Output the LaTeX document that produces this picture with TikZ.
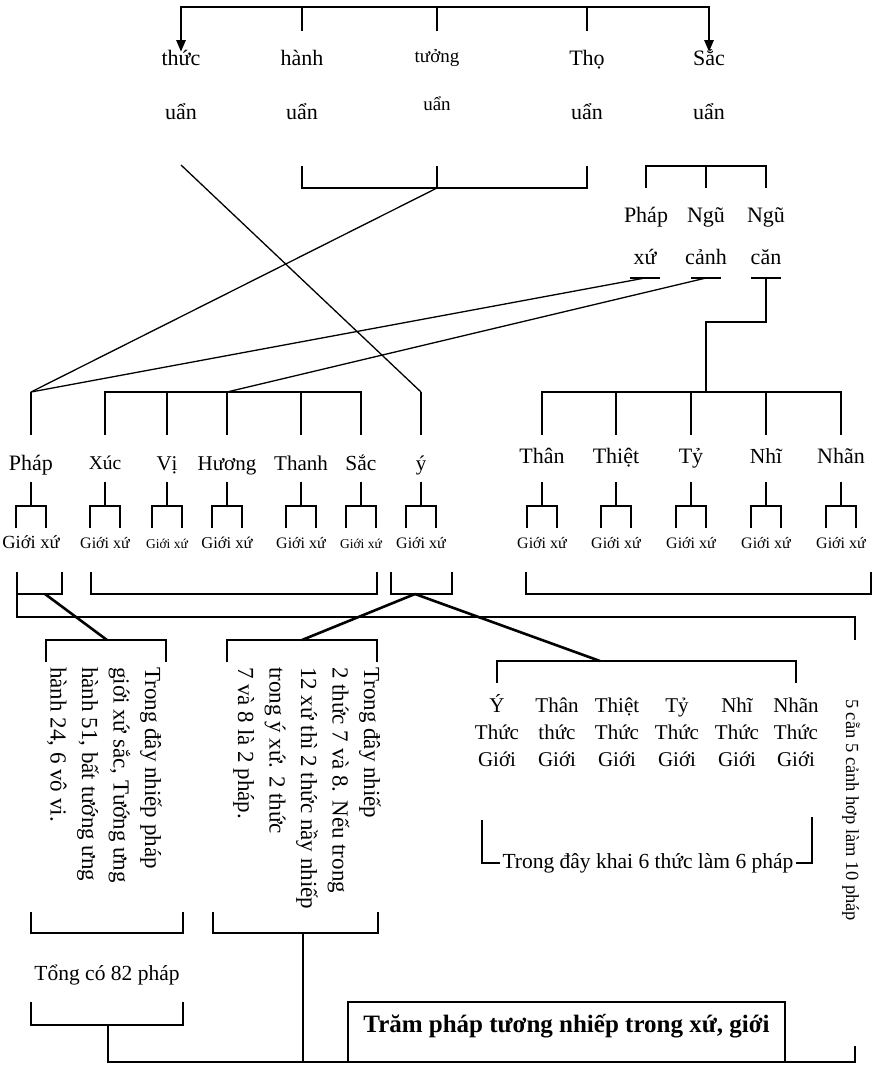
\documentclass[tikz,border=0pt]{standalone}
\usepackage{fontspec}
\setmainfont{Liberation Serif}
\usetikzlibrary{positioning, arrows.meta, calc}

\begin{document}
\begin{tikzpicture}[
  x=1pt, y=-1pt,
  ln/.style={line width=1.3pt},
  bar/.style={line width=2.8pt, line cap=rect},
  slash/.style={line width=2.6pt},
  lbl/.style={inner sep=0pt, anchor=base, font=\fontsize{#1}{#1}\selectfont},
  lbl/.default=22,
  note/.style={
    inner sep=0pt, rotate=-90, align=left, anchor=north west,
    font=\fontsize{23}{31.5}\selectfont,
  },
  bothtips/.style={{Triangle[length=12pt,width=9pt]}-{Triangle[length=12pt,width=9pt]}},
]
\useasboundingbox (0,0) rectangle (877,1069);

% rows used by the brackets
\coordinate (topbar) at (0,7);
\coordinate (tickend) at (0,31);
\coordinate (hT) at (0,166);
\coordinate (hB) at (0,188);
\coordinate (stub) at (0,278);
\coordinate (elbow) at (0,322);
\coordinate (barL) at (0,392);
\coordinate (colTop) at (0,435);
\coordinate (fkA) at (0,482);
\coordinate (fkB) at (0,506);
\coordinate (fkC) at (0,528);

% five aggregates
\node[lbl] (thuc) at (181,65) {thức};
\node[lbl] (hanh) at (302,65) {hành};
\node[lbl=19] (tuong) at (437,62) {tưởng};
\node[lbl] (tho) at (587,65) {Thọ};
\node[lbl] (sac) at (709,65) {Sắc};
\node[lbl] (thucU) at (181,119) {uẩn};
\node[lbl] (hanhU) at (302,119) {uẩn};
\node[lbl=19] (tuongU) at (437,110) {uẩn};
\node[lbl] (thoU) at (587,119) {uẩn};
\node[lbl] (sacU) at (709,119) {uẩn};

\draw[bar, line cap=butt, bothtips] ($(thuc.base)+(0,-13)$) -- (thuc.base |- topbar)
  -- (sac.base |- topbar) -- ($(sac.base)+(0,-13)$);
\foreach \n in {hanh,tuong,tho}
  \draw[ln] (\n.base |- topbar) -- (\n.base |- tickend);

\foreach \n in {hanh,tuong,tho}
  \draw[ln] (\n.base |- hT) -- (\n.base |- hB);
\draw[bar] (hanh.base |- hB) -- (tho.base |- hB);

% form: dharma-base, objects, organs
\node[lbl] (phapX) at (646,222) {Pháp};
\node[lbl] (nguC) at (706,222) {Ngũ};
\node[lbl] (nguK) at (766,222) {Ngũ};
\node[lbl] (xu) at (645,264) {xứ};
\node[lbl] (canh) at (706,264) {cảnh};
\node[lbl] (can) at (766,264) {căn};
\draw[ln] (phapX.base |- hB) -- (phapX.base |- hT) -- (nguK.base |- hT) -- (nguK.base |- hB);
\draw[ln] (nguC.base |- hT) -- (nguC.base |- hB);
\foreach \n in {xu,canh,can}
  \draw[ln] ($(\n.base |- stub)+(-15,0)$) -- ++(30,0);
\draw[ln] (can.base |- stub) |- (canh.base |- elbow) -- (canh.base |- barL);

% twelve bases
\foreach \n/\x/\by/\txt/\fs/\gs in {
    phapL/31/470/Pháp/22/18.5, xuc/105/469/Xúc/19.5/16, vi/167/470/Vị/21/13.5,
    huong/227/470/Hương/21/16.5, thanh/301/470/Thanh/21/16, sacL/361/470/Sắc/21.5/13.5,
    yL/421/470/ý/21/16, than/542/463/Thân/22/16, thiet/616/463/Thiệt/22/16,
    ty/691/463/Tỷ/22/16, nhi/766/463/Nhĩ/21.5/16, nhan/841/463/Nhãn/22/16} {
  \node[lbl=\fs] (\n) at (\x,\by) {\txt};
  \node[lbl=\gs] (\n-gx) at (\x,548) {Giới xứ};
  \draw[ln] (\n.base |- barL) -- (\n.base |- colTop);
  \draw[ln] (\n.base |- fkA) -- (\n.base |- fkB);
  \draw[ln] ($(\n.base |- fkC)+(-15,0)$) -- ($(\n.base |- fkB)+(-15,0)$)
    -- ($(\n.base |- fkB)+(15,0)$) -- ($(\n.base |- fkC)+(15,0)$);
}
\draw[bar] (xuc.base |- barL) -- (sacL.base |- barL);
\draw[bar] (than.base |- barL) -- (nhan.base |- barL);

\draw[ln] ($(thucU.base)+(0,46)$) -- (yL.base |- barL);
\draw[ln] (tuong.base |- hB) -- (phapL.base |- barL);
\draw[ln] (phapL.base |- barL) -- (xu.base |- stub);
\draw[ln] (huong.base |- barL) -- (canh.base |- stub);

% groups under the eighteen elements
\draw[ln] (17,572) -- (17,594) -- (62,594) -- (62,572);
\draw[ln] (91,572) |- (377,594) -- (377,572);
\draw[ln] (391,572) |- (452,594) -- (452,572);
\draw[ln] (526,572) |- (871,594) -- (871,572);
\draw[bar, line cap=butt] (17,594) |- (855,617) -- (855,640);

\coordinate (jPhap) at (45,594);
\coordinate (jY) at (415,594);
\coordinate (n1top) at (107,640);
\coordinate (n2top) at (302,640);
\coordinate (ytTop) at (600,661);
\draw[slash] (jPhap) -- (n1top);
\draw[slash] (jY) -- (n2top);
\draw[slash] (jY) -- (ytTop);

\draw[ln] (46,662) |- (166,640) -- (166,662);
\draw[ln] (227,662) |- (377,640) -- (377,662);
\node[note] (note1) at (162,667) {Trong đây nhiếp pháp\\giới xứ sắc, Tướng ưng\\hành 51, bất tướng ưng\\hành 24, 6 vô vi.};
\node[note] (note2) at (381,667) {Trong đây nhiếp\\2 thức 7 và 8. Nếu trong\\12 xứ thì 2 thức nầy nhiếp\\trong ý xứ. 2 thức\\7 và 8 là 2 pháp.};

% six consciousness elements
\foreach \n/\x/\fa/\fb in {yt/497/Ý/Thức, tt/557/Thân/thức, thit/617/Thiệt/Thức,
    tyt/677/Tỷ/Thức, nht/737/Nhĩ/Thức, nnt/796/Nhãn/Thức} {
  \node[lbl=21] (\n-1) at (\x,712) {\fa};
  \node[lbl=21] (\n-2) at (\x,739) {\fb};
  \node[lbl=21] (\n-3) at (\x,766) {Giới};
}
\coordinate (ybrT) at (0,661);
\coordinate (ybrB) at (0,683);
\draw[ln] (yt-1.base |- ybrB) |- (nnt-1.base |- ybrT) -- (nnt-1.base |- ybrB);

\node[lbl=21.5, inner sep=2pt] (khai) at (648,868) {Trong đây khai 6 thức làm 6 pháp};
\coordinate (kL) at (482,820);
\coordinate (kR) at (812,817);
\draw[ln] (kL) |- (khai.west);
\draw[ln] (kR) |- (khai.east);

\node[lbl=18.5, rotate=-90, anchor=center] (canhNote) at (851,810) {5 cẵn 5 cảnh hơp làm 10 pháp};

% totals
\draw[ln] (31,912) |- (183,933) -- (183,912);
\draw[ln] (213,912) |- (378,933) -- (378,912);
\node[lbl=21.5] (tong) at (107,980) {Tổng có 82 pháp};
\draw[ln] (31,1002) |- (183,1025) -- (183,1002);
\node[draw, line width=2pt, minimum width=437pt, minimum height=60pt,
  text height=17pt, text depth=17pt, inner sep=0pt,
  font=\fontsize{25}{28}\selectfont\bfseries] (tram) at (566.5,1032)
  {Trăm pháp tương nhiếp trong xứ, giới};

\coordinate (n2stem) at (303,933);
\coordinate (tongstem) at (108,1025);
\coordinate (baseL) at (108,1062);
\coordinate (baseR) at (855,1062);
\draw[ln] (tongstem) -- (baseL);
\draw[ln] (n2stem) -- (n2stem |- baseL);
\draw[bar, line width=2.4pt] (baseL) -- (baseR) -- ($(baseR)+(0,-15)$);
\end{tikzpicture}
\end{document}
